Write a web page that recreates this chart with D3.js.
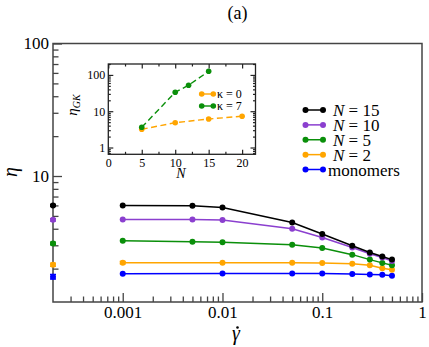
<!DOCTYPE html>
<html>
<head>
<meta charset="utf-8">
<script src="https://cdn.jsdelivr.net/npm/d3@7"></script>
<style>
  body { margin: 0; background: #fff; }
  svg text { font-family: "Liberation Serif", "Times New Roman", serif; }
</style>
</head>
<body>
<svg id="canvas" width="429" height="347"></svg>
<script>
// Data
let shearRates = [0.001, 0.005, 0.01, 0.05, 0.1, 0.2, 0.3, 0.4, 0.5];
let etaN15 = [6.0, 5.96, 5.79, 4.46, 3.65, 2.98, 2.65, 2.47, 2.34];
let etaN10 = [4.70, 4.70, 4.65, 4.0, 3.44, 2.89, 2.59, 2.43, 2.28];
let etaN5 = [3.24, 3.19, 3.17, 3.03, 2.86, 2.55, 2.34, 2.21, 2.12];
let etaN2 = [2.22, null, 2.22, 2.22, 2.21, 2.18, 2.12, 2.01, 1.96];
let etaMono = [1.83, null, 1.84, 1.84, 1.84, 1.82, 1.81, 1.80, 1.77];

// equilibrium values drawn on the left axis, with their errors
let eqRate = 0.0002;
let etaEq = [6.0, 4.67, 3.10, 2.14, 1.74];
let etaEqErr = [0.1, 0.1, 0.07, 0.06, 0.07];

let seriesNames = ['N = 15', 'N = 10', 'N = 5', 'N = 2', 'monomers'];
let seriesColors = ['#000000', '#8b3fcf', '#0a8f0a', '#ffa500', '#0000ff'];

// inset: Green-Kubo viscosity vs N
let insetN0 = [5, 10, 15, 20];
let etaGK0 = [3.18, 4.83, 6.11, 7.26];
let insetN7 = [5, 10, 12, 15];
let etaGK7 = [3.61, 33.3, 52, 126];
let insetNames = ['\u03ba = 0', '\u03ba = 7'];
let insetColors = ['#ffa500', '#0a8f0a'];

let canvas = d3.select('#canvas');
let frameColor = '#444';

// Main scales
let x = d3.scaleLog().domain([eqRate, 1]).range([53, 422]);
let y = d3.scaleLog().domain([1.12, 100]).range([302, 43.5]);

let isPow10 = (v) => Math.abs(Math.log10(v) - Math.round(Math.log10(v))) < 1e-6;

// Draw Axes
let drawAxes = () => {
    let xTicks = x.ticks().filter(v => v > eqRate * 1.01);
    let xAxis = canvas.append('g')
        .attr('transform', 'translate(0,302)')
        .call(d3.axisBottom(x).tickValues(xTicks).tickSize(-9).tickSizeOuter(0).tickPadding(4)
            .tickFormat(v => isPow10(v) ? d3.format('~g')(v) : ''));
    xAxis.select('.domain').remove();
    xAxis.selectAll('.tick').filter(v => !isPow10(v)).select('line').attr('y2', -5.5);
    xAxis.selectAll('line').attr('stroke', frameColor).attr('stroke-width', 1.3);
    xAxis.selectAll('text').attr('font-size', 17).attr('font-family', 'Liberation Serif').attr('fill', '#000');

    let yAxis = canvas.append('g')
        .attr('transform', 'translate(53,0)')
        .call(d3.axisLeft(y).tickValues(y.ticks()).tickSize(-9).tickSizeOuter(0).tickPadding(4)
            .tickFormat(v => isPow10(v) ? d3.format('~g')(v) : ''));
    yAxis.select('.domain').remove();
    yAxis.selectAll('.tick').filter(v => !isPow10(v)).select('line').attr('x2', 5.5);
    yAxis.selectAll('line').attr('stroke', frameColor).attr('stroke-width', 1.3);
    yAxis.selectAll('text').attr('font-size', 17).attr('font-family', 'Liberation Serif').attr('fill', '#000');

    canvas.append('rect')
        .attr('x', 53).attr('y', 43.5)
        .attr('width', 422 - 53).attr('height', 302 - 43.5)
        .attr('fill', 'none').attr('stroke', frameColor).attr('stroke-width', 1.5);

    // labels
    canvas.append('text')
        .attr('x', 237.5).attr('y', 19)
        .attr('text-anchor', 'middle').attr('font-size', 18)
        .text('(a)');
    canvas.append('text')
        .attr('transform', 'translate(17,172) rotate(-90)')
        .attr('text-anchor', 'middle').attr('font-size', 20).attr('font-style', 'italic')
        .text('\u03b7');
    // gamma with a dot drawn above it
    canvas.append('text')
        .attr('x', 236).attr('y', 340)
        .attr('text-anchor', 'middle').attr('font-size', 20).attr('font-style', 'italic')
        .text('\u03b3');
    canvas.append('circle')
        .attr('cx', 237.5).attr('cy', 327.5).attr('r', 1.3).attr('fill', '#000');
};

// Draw Series
let drawSeries = () => {
    let allSeries = [etaN15, etaN10, etaN5, etaN2, etaMono];
    let line = d3.line().x(d => x(d.rate)).y(d => y(d.eta));

    // draw from monomers up so the black curve sits on top
    d3.range(allSeries.length - 1, -1, -1).forEach((i) => {
        let points = shearRates
            .map((rate, j) => ({ rate: rate, eta: allSeries[i][j] }))
            .filter(d => d.eta != null);
        let color = seriesColors[i];

        canvas.append('path')
            .datum(points)
            .attr('d', line)
            .attr('fill', 'none')
            .attr('stroke', color)
            .attr('stroke-width', 1.5);

        canvas.selectAll('.pt' + i)
            .data(points)
            .enter()
            .append('circle')
            .attr('cx', d => x(d.rate))
            .attr('cy', d => y(d.eta))
            .attr('r', 3)
            .attr('fill', color);

        // equilibrium point on the axis with error bar
        let ex = x(eqRate);
        let lo = y(etaEq[i] - etaEqErr[i]);
        let hi = y(etaEq[i] + etaEqErr[i]);
        canvas.append('path')
            .attr('d', `M${ex},${lo}V${hi}M${ex - 3},${lo}H${ex + 3}M${ex - 3},${hi}H${ex + 3}`)
            .attr('stroke', color).attr('stroke-width', 1.3).attr('fill', 'none');
        canvas.append('circle')
            .attr('cx', ex).attr('cy', y(etaEq[i]))
            .attr('r', 3).attr('fill', color);
    });

    // small error bar on the orange point at 0.001
    let ox = x(shearRates[0]);
    let olo = y(etaN2[0] - 0.05);
    let ohi = y(etaN2[0] + 0.05);
    canvas.append('path')
        .attr('d', `M${ox},${olo}V${ohi}M${ox - 3},${olo}H${ox + 3}M${ox - 3},${ohi}H${ox + 3}`)
        .attr('stroke', seriesColors[3]).attr('stroke-width', 1.3).attr('fill', 'none');

    // legend
    let legendY = d3.scaleLinear().domain([0, 4]).range([110, 169.5]);
    seriesNames.forEach((name, i) => {
        let ly = legendY(i);
        canvas.append('line')
            .attr('x1', 305.5).attr('x2', 323).attr('y1', ly).attr('y2', ly)
            .attr('stroke', seriesColors[i]).attr('stroke-width', 1.5);
        [305.5, 323].forEach(cx => {
            canvas.append('circle').attr('cx', cx).attr('cy', ly).attr('r', 3).attr('fill', seriesColors[i]);
        });
        let t = canvas.append('text')
            .attr('y', ly + 6).attr('font-size', 17);
        if (name === 'monomers') {
            t.attr('x', 328).text(name);
        } else {
            t.attr('x', 333);
            t.append('tspan').attr('font-style', 'italic').text('N');
            t.append('tspan').text(name.slice(1));
        }
    });
};

// Draw Inset
let drawInset = () => {
    let ix = d3.scaleLinear().domain([0, 22]).range([108.3, 255.5]);
    let iy = d3.scaleLog().domain([0.65, 200]).range([154.3, 64]);
    let g = canvas.append('g');

    g.append('rect')
        .attr('x', 108.3).attr('y', 64)
        .attr('width', 255.5 - 108.3).attr('height', 154.3 - 64)
        .attr('fill', '#fff').attr('stroke', '#222').attr('stroke-width', 1.3);

    let xTicks = d3.range(0, 22.01, 2.5);
    let isMajorN = (v) => v % 5 === 0;
    let styleAxis = (ax) => {
        ax.select('.domain').remove();
        ax.selectAll('line').attr('stroke', '#222').attr('stroke-width', 1.2);
        ax.selectAll('text').attr('font-size', 12).attr('font-family', 'Liberation Serif').attr('fill', '#000');
    };

    let bx = g.append('g').attr('transform', 'translate(0,154.3)')
        .call(d3.axisBottom(ix).tickValues(xTicks).tickSize(-4.5).tickSizeOuter(0).tickPadding(4)
            .tickFormat(v => isMajorN(v) ? v : ''));
    bx.selectAll('.tick').filter(v => !isMajorN(v)).select('line').attr('y2', -2.5);
    styleAxis(bx);

    let tx = g.append('g').attr('transform', 'translate(0,64)')
        .call(d3.axisTop(ix).tickValues(xTicks).tickSize(-4.5).tickSizeOuter(0).tickFormat(''));
    tx.selectAll('.tick').filter(v => !isMajorN(v)).select('line').attr('y2', 2.5);
    styleAxis(tx);

    let yTicks = iy.ticks();
    let ly = g.append('g').attr('transform', 'translate(108.3,0)')
        .call(d3.axisLeft(iy).tickValues(yTicks).tickSize(-5).tickSizeOuter(0).tickPadding(3)
            .tickFormat(v => isPow10(v) ? d3.format('~g')(v) : ''));
    ly.selectAll('.tick').filter(v => !isPow10(v)).select('line').attr('x2', 2.5);
    styleAxis(ly);

    let ry = g.append('g').attr('transform', 'translate(255.5,0)')
        .call(d3.axisRight(iy).tickValues(yTicks).tickSize(-5).tickSizeOuter(0).tickFormat(''));
    ry.selectAll('.tick').filter(v => !isPow10(v)).select('line').attr('x2', -2.5);
    styleAxis(ry);

    let line = d3.line().x(d => ix(d.n)).y(d => iy(d.eta));
    let sets = [
        insetN0.map((n, j) => ({ n: n, eta: etaGK0[j] })),
        insetN7.map((n, j) => ({ n: n, eta: etaGK7[j] }))
    ];
    sets.forEach((points, i) => {
        g.append('path')
            .datum(points)
            .attr('d', line)
            .attr('fill', 'none')
            .attr('stroke', insetColors[i])
            .attr('stroke-width', 1.4)
            .attr('stroke-dasharray', '6,3.5');
        g.selectAll('.ipt' + i)
            .data(points)
            .enter()
            .append('circle')
            .attr('cx', d => ix(d.n))
            .attr('cy', d => iy(d.eta))
            .attr('r', 2.8)
            .attr('fill', insetColors[i]);
    });

    // inset legend
    insetNames.forEach((name, i) => {
        let yy = 94 + i * 12;
        g.append('line')
            .attr('x1', 201.7).attr('x2', 213.3).attr('y1', yy).attr('y2', yy)
            .attr('stroke', insetColors[i]).attr('stroke-width', 1.4);
        [201.7, 213.3].forEach(cx => {
            g.append('circle').attr('cx', cx).attr('cy', yy).attr('r', 2.8).attr('fill', insetColors[i]);
        });
        g.append('text')
            .attr('x', 217).attr('y', yy + 4)
            .attr('font-size', 12)
            .text(name);
    });

    // inset labels
    g.append('text')
        .attr('x', 181).attr('y', 178)
        .attr('text-anchor', 'middle').attr('font-size', 14).attr('font-style', 'italic')
        .text('N');
    let yl = g.append('text')
        .attr('transform', 'translate(77,105) rotate(-90)')
        .attr('text-anchor', 'middle').attr('font-size', 15).attr('font-style', 'italic');
    yl.append('tspan').text('\u03b7');
    yl.append('tspan').attr('font-size', 10).attr('dy', 3).text('GK');
};

drawAxes();
drawSeries();
drawInset();
</script>
</body>
</html>
